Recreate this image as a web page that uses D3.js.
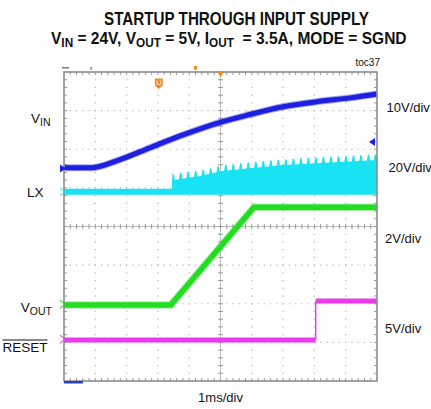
<!DOCTYPE html>
<html><head><meta charset="utf-8">
<script src="https://cdn.jsdelivr.net/npm/d3@7"></script>
<style>body{margin:0;background:#fff}svg{display:block}</style>
</head><body><svg id="c" width="431" height="409"></svg>
<script>
// ---- data (time in ms, 1 ms/div; amplitude in screen divisions, 0 = bottom) ----
const timeDomain = [0, 10];
const divDomain = [0, 8];
const vinT = [0, 0.88, 1.68, 2.75, 3.80, 5.04, 5.94, 7.00, 8.07, 9.14, 10];
const vinV = [5.52, 5.52, 5.70, 6.04, 6.37, 6.71, 6.90, 7.10, 7.23, 7.33, 7.43];
const lxFlatT = [0, 3.45];
const lxFlatV = [4.90, 4.90];
const lxBodyT = [3.45, 4.35, 5.05, 5.94, 7.00, 8.08, 10];
const lxBodyV = [5.20, 5.31, 5.44, 5.51, 5.59, 5.64, 5.72];
const lxFloor = 4.82;
const lxPeakT = [3.50, 3.74, 3.98, 4.22, 4.46, 4.70, 4.94, 5.18, 5.42, 5.66, 5.90, 6.14, 6.38, 6.62,
                 6.86, 7.10, 7.34, 7.58, 7.82, 8.06, 8.30, 8.54, 8.78, 9.02, 9.26, 9.50, 9.74, 9.96];
const lxPeakV = [5.37, 5.40, 5.43, 5.45, 5.48, 5.52, 5.57, 5.61, 5.63, 5.65, 5.67, 5.69, 5.71, 5.72,
                 5.74, 5.75, 5.77, 5.78, 5.79, 5.80, 5.81, 5.82, 5.83, 5.84, 5.85, 5.86, 5.87, 5.88];
const voutT = [0, 3.41, 6.07, 10];
const voutV = [1.97, 1.97, 4.50, 4.50];
const resetT = [0, 8.04, 8.04, 10];
const resetV = [1.06, 1.06, 2.07, 2.07];
const markerLevels = [5.50, 4.90, 1.99, 1.08];   // channel ground markers (VIN, LX, VOUT, RESET)
const scaleLabels = ["10V/div", "20V/div", "2V/div", "5V/div"];
const titleLine1 = "STARTUP THROUGH INPUT SUPPLY";
const xLabel = "1ms/div";
const figId = "toc37";

const colors = {vin: "#1f1fe0", lx: "#19e3f2", vout: "#22dd22", reset: "#ec3aec"};

const svg = d3.select("#c");
svg.append("rect").attr("width", 431).attr("height", 409).attr("fill", "#fff");

const x = d3.scaleLinear().domain(timeDomain).range([64, 377]);
const y = d3.scaleLinear().domain(divDomain).range([381, 72]);

// ---- grid ----
const g = svg.append("g");
const xMaj = d3.range(1, 10), yMaj = d3.range(1, 8);
const dx = (x(1) - x(0)) / 5, dy = (y(0) - y(1)) / 5;
g.selectAll(".vg").data(xMaj.filter(d => d !== 5)).join("line")
  .attr("x1", d => x(d)).attr("x2", d => x(d)).attr("y1", y(8)).attr("y2", y(0))
  .attr("stroke", "#b5b5b5").attr("stroke-width", 1.2)
  .attr("stroke-dasharray", `1.2,${dy - 1.2}`).attr("stroke-dashoffset", 0.6);
g.selectAll(".hg").data(yMaj.filter(d => d !== 4)).join("line")
  .attr("y1", d => y(d)).attr("y2", d => y(d)).attr("x1", x(0)).attr("x2", x(10))
  .attr("stroke", "#b5b5b5").attr("stroke-width", 1.2)
  .attr("stroke-dasharray", `1.2,${dx - 1.2}`).attr("stroke-dashoffset", 0.6);
// center cross
g.append("line").attr("x1", x(5)).attr("x2", x(5)).attr("y1", y(8)).attr("y2", y(0))
  .attr("stroke", "#bbb").attr("stroke-width", 1);
g.append("line").attr("y1", y(4)).attr("y2", y(4)).attr("x1", x(0)).attr("x2", x(10))
  .attr("stroke", "#bbb").attr("stroke-width", 1);
const minorX = d3.range(1, 50).map(i => i / 5);
const minorY = d3.range(1, 40).map(i => i / 5);
g.selectAll(".cxt").data(minorX).join("line")
  .attr("x1", d => x(d)).attr("x2", d => x(d)).attr("y1", y(4) - 2.5).attr("y2", y(4) + 2.5)
  .attr("stroke", "#999").attr("stroke-width", 1);
g.selectAll(".cyt").data(minorY).join("line")
  .attr("y1", d => y(d)).attr("y2", d => y(d)).attr("x1", x(5) - 2.5).attr("x2", x(5) + 2.5)
  .attr("stroke", "#999").attr("stroke-width", 1);
// border ticks
g.selectAll(".tt").data(minorX).join("line")
  .attr("x1", d => x(d)).attr("x2", d => x(d)).attr("y1", y(8)).attr("y2", y(8) + 3)
  .attr("stroke", "#999");
g.selectAll(".bt").data(minorX).join("line")
  .attr("x1", d => x(d)).attr("x2", d => x(d)).attr("y1", y(0)).attr("y2", y(0) - 3)
  .attr("stroke", "#999");
g.selectAll(".lt").data(minorY).join("line")
  .attr("y1", d => y(d)).attr("y2", d => y(d)).attr("x1", x(0)).attr("x2", x(0) + 3)
  .attr("stroke", "#999");
g.selectAll(".rt").data(minorY).join("line")
  .attr("y1", d => y(d)).attr("y2", d => y(d)).attr("x1", x(10)).attr("x2", x(10) - 3)
  .attr("stroke", "#999");

// ---- traces ----
const tr = svg.append("g");
const line = d3.line().x(d => x(d[0])).y(d => y(d[1]));
const zip = (a, b) => a.map((t, i) => [t, b[i]]);

// LX
tr.append("path").datum(zip(lxFlatT, lxFlatV)).attr("d", line)
  .attr("fill", "none").attr("stroke", colors.lx).attr("stroke-width", 6);
const body = d3.scaleLinear().domain(lxBodyT).range(lxBodyV);
tr.append("path").datum(lxBodyT)
  .attr("d", d3.area().x(t => x(t)).y0(y(lxFloor)).y1(t => y(body(t))))
  .attr("fill", colors.lx);
tr.selectAll(".spk").data(zip(lxPeakT, lxPeakV)).join("path")
  .attr("d", d => line([[Math.max(3.45, d[0] - 0.07), body(Math.max(3.45, d[0] - 0.07)) - 0.02],
                        [d[0] - 0.03, d[1]], [d[0] + 0.015, d[1] - 0.03],
                        [Math.min(10, d[0] + 0.04), body(Math.min(10, d[0] + 0.04)) - 0.02]]))
  .attr("fill", colors.lx);

// VIN
const vinLine = d3.line().x(d => x(d[0])).y(d => y(d[1])).curve(d3.curveMonotoneX);
tr.append("path").datum(zip(vinT, vinV)).attr("d", vinLine)
  .attr("fill", "none").attr("stroke", colors.vin).attr("stroke-width", 7).attr("opacity", 0.4);
tr.append("path").datum(zip(vinT, vinV)).attr("d", vinLine)
  .attr("fill", "none").attr("stroke", colors.vin).attr("stroke-width", 5);

// VOUT
tr.append("path").datum(zip(voutT, voutV)).attr("d", line)
  .attr("fill", "none").attr("stroke", colors.vout).attr("stroke-width", 7.5).attr("opacity", 0.4);
tr.append("path").datum(zip(voutT, voutV)).attr("d", line)
  .attr("fill", "none").attr("stroke", colors.vout).attr("stroke-width", 5.5);

// RESET
const rs = zip(resetT, resetV);
tr.append("path").datum(rs.slice(0, 2)).attr("d", line)
  .attr("fill", "none").attr("stroke", colors.reset).attr("stroke-width", 5);
tr.append("path").datum(rs.slice(2)).attr("d", line)
  .attr("fill", "none").attr("stroke", colors.reset).attr("stroke-width", 5);
tr.append("path").datum(rs.slice(1, 3)).attr("d", line)
  .attr("fill", "none").attr("stroke", colors.reset).attr("stroke-width", 1.5);

// ---- border ----
svg.append("rect").attr("x", x(0)).attr("y", y(8)).attr("width", x(10) - x(0)).attr("height", y(0) - y(8))
  .attr("fill", "none").attr("stroke", "#8c8c8c").attr("stroke-width", 1.6);

// ---- markers ----
const mk = svg.append("g");
const mcol = [colors.vin, colors.lx, colors.vout, colors.reset];
markerLevels.forEach((v, i) => {
  const yy = y(v);
  if (i === 0) {
    mk.append("path").attr("d", `M60,${yy - 4}L66,${yy}L60,${yy + 4}Z`).attr("fill", mcol[i]);
  } else {
    mk.append("path").attr("d", `M60,${yy - 4}L65,${yy}L60,${yy + 4}`)
      .attr("fill", "none").attr("stroke", mcol[i]).attr("stroke-width", 1.3).attr("opacity", 0.8);
  }
});
// right reference arrow (VIN)
mk.append("path").attr("d", `M369,${y(6.19)}L375,${y(6.19) - 4}L375,${y(6.19) + 4}Z`).attr("fill", colors.vin);
// trigger markers
mk.append("path").attr("d", `M${x(5) - 4},${y(8) - 1}L${x(5) + 4},${y(8) - 1}L${x(5)},${y(8) + 5}Z`).attr("fill", "#f08a24");
mk.append("path").attr("d", `M${x(4.2) - 1.5},66L${x(4.2) + 1.5},66L${x(4.2) + 1.5},69L${x(4.2)},70.5L${x(4.2) - 1.5},69Z`).attr("fill", "#f08a24");
const ux = x(3.03);
mk.append("path").attr("d", `M${ux - 4},78.5L${ux + 4},78.5L${ux + 4},85.5L${ux},89L${ux - 4},85.5Z`).attr("fill", "#f08a24");
mk.append("path").attr("d", `M${ux - 1.8},80.5L${ux - 1.8},84.5L${ux + 1.8},84.5L${ux + 1.8},80.5`)
  .attr("fill", "none").attr("stroke", "#fbd3a8").attr("stroke-width", 1.2);
// small ruler marks above frame
mk.append("rect").attr("x", 62).attr("y", 67).attr("width", 7).attr("height", 1.5).attr("fill", "#777");
mk.append("rect").attr("x", 90.5).attr("y", 67).attr("width", 1.3).attr("height", 3).attr("fill", "#777");
// bottom blue bar
mk.append("rect").attr("x", x(0)).attr("y", y(0)).attr("width", 19).attr("height", 2.5).attr("fill", "#2a3fd0");

// ---- texts ----
const T = svg.append("g").attr("fill", "#111").attr("font-family", "'Liberation Sans', Arial, sans-serif");
function fit(sel, x0, x1) {
  const b = sel.node().getBBox();
  const s = (x1 - x0) / b.width;
  sel.attr("transform", `translate(${x0},0) scale(${s},1) translate(${-b.x},0)`);
}
const t1 = T.append("text").attr("x", 0).attr("y", 25.5).attr("font-size", 18).attr("font-weight", "bold").text(titleLine1);
fit(t1, 104, 369);
const t2 = T.append("text").attr("x", 0).attr("y", 44).attr("font-size", 16.5).attr("font-weight", "bold");
const parts2 = [["V", 0], ["IN", 1], [" = 24V, V", 0], ["OUT", 1], [" = 5V, I", 0], ["OUT", 1], ["  = 3.5A, MODE = SGND", 0]];
parts2.forEach(p => {
  t2.append("tspan").attr("font-size", p[1] ? 12.5 : 16.5)
    .attr("baseline-shift", p[1] ? "-3" : null).style("white-space", "pre").text(p[0]);
});
fit(t2, 51, 407);

function lab(parts, xr, yb, ov) {
  const t = T.append("text").attr("x", 0).attr("y", yb).attr("font-size", 13.5);
  parts.forEach(p => t.append("tspan").attr("font-size", p[1] ? 10.5 : 13.5)
    .attr("baseline-shift", p[1] ? "-3" : null).text(p[0]));
  const b = t.node().getBBox();
  t.attr("x", xr - b.width);
  if (ov) T.append("line").attr("x1", xr - b.width).attr("x2", xr).attr("y1", yb - 11.5).attr("y2", yb - 11.5)
    .attr("stroke", "#111").attr("stroke-width", 1);
}
lab([["V", 0], ["IN", 1]], 50.5, 123, false);
lab([["LX", 0]], 43.5, 197, false);
lab([["V", 0], ["OUT", 1]], 52.5, 311.5, false);
lab([["RESET", 0]], 47.5, 351.5, true);

const rightPos = [[386.5, 111.5], [388.5, 172], [385, 243], [385, 333]];
scaleLabels.forEach((s, i) => T.append("text").attr("x", rightPos[i][0]).attr("y", rightPos[i][1])
  .attr("font-size", 13).text(s));
T.append("text").attr("x", 380).attr("y", 66).attr("text-anchor", "end").attr("font-size", 10).text(figId);
T.append("text").attr("x", x(5)).attr("y", 402).attr("text-anchor", "middle").attr("font-size", 13).text(xLabel);
</script></body></html>
